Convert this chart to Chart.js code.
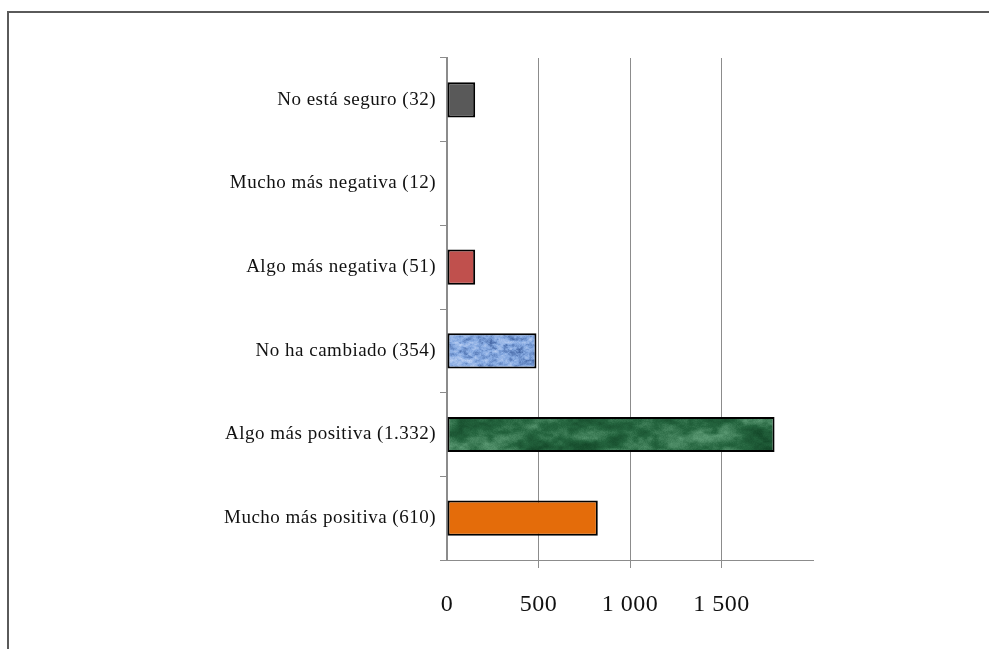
<!DOCTYPE html>
<html>
<head>
<meta charset="utf-8">
<script src="https://cdn.jsdelivr.net/npm/chart.js@4/dist/chart.umd.min.js"></script>
<style>
  html, body { margin: 0; padding: 0; background: #ffffff; overflow: hidden; }
  #wrap { position: relative; width: 989px; height: 649px; }
  #frame { position: absolute; left: 7px; top: 11px; width: 1100px; height: 800px;
           border-top: 2px solid #5a5a5a; border-left: 2px solid #5a5a5a; box-sizing: border-box; }
  #c { position: absolute; left: 0; top: 0; }
</style>
</head>
<body>
<div id="wrap">
  <div id="frame"></div>
  <canvas id="c" width="989" height="649"></canvas>
</div>
<script>
// Survey answers, top to bottom
const categories = [
  'No está seguro (32)',
  'Mucho más negativa (12)',
  'Algo más negativa (51)',
  'No ha cambiado (354)',
  'Algo más positiva (1.332)',
  'Mucho más positiva (610)'
];
const values = [154, 0, 154, 489, 1790, 824];
const xTicks = [0, 500, 1000, 1500];

// --- textured fills -------------------------------------------------------
function hash(x, y) {
  const h = Math.sin(x * 127.1 + y * 311.7) * 43758.5453;
  return h - Math.floor(h);
}
function smooth(x, y) {
  const xi = Math.floor(x), yi = Math.floor(y);
  const xf = x - xi, yf = y - yi;
  const u = xf * xf * (3 - 2 * xf), v = yf * yf * (3 - 2 * yf);
  const a = hash(xi, yi), b = hash(xi + 1, yi), c = hash(xi, yi + 1), d = hash(xi + 1, yi + 1);
  return a + (b - a) * u + (c - a) * v + (a - b - c + d) * u * v;
}
function mix(c1, c2, t) {
  t = Math.max(0, Math.min(1, t));
  return [0, 1, 2].map(i => Math.round(c1[i] + (c2[i] - c1[i]) * t));
}
// the fill canvases span the whole chart width, so no tile seam shows inside a bar
function makePattern(w, h, shade) {
  const cv = document.createElement('canvas');
  cv.width = w; cv.height = h;
  const g = cv.getContext('2d');
  const img = g.createImageData(w, h);
  for (let y = 0; y < h; y++) {
    for (let x = 0; x < w; x++) {
      const col = shade(x, y);
      const k = (y * w + x) * 4;
      img.data[k] = col[0]; img.data[k + 1] = col[1]; img.data[k + 2] = col[2]; img.data[k + 3] = 255;
    }
  }
  g.putImageData(img, 0, 0);
  return g.createPattern(cv, 'repeat');
}
// blue tissue paper
const tissue = makePattern(989, 649, (x, y) => {
  const n = 0.55 * smooth(x / 5, y / 3) + 0.3 * smooth(x / 2.2, y / 1.6 + 7) + 0.15 * hash(x, y);
  const dark = [52, 86, 150], mid = [132, 168, 224], light = [196, 214, 246];
  return n < 0.5 ? mix(dark, mid, n / 0.5) : mix(mid, light, (n - 0.5) / 0.5);
});
// green marble, cloudy
const marble = makePattern(989, 649, (x, y) => {
  const n = 0.45 * smooth(x / 45, y / 14) + 0.3 * smooth(x / 14, y / 6 + 5) +
            0.17 * smooth(x / 5, y / 3 + 9) + 0.08 * hash(x, y);
  const dark = [8, 52, 26], mid = [36, 100, 62], light = [100, 162, 124];
  return n < 0.5 ? mix(dark, mid, n / 0.5) : mix(mid, light, (n - 0.5) / 0.4);
});

const fills = ['#595959', '#595959', '#c0504d', tissue, marble, '#e46c0a'];

// --- chart ---------------------------------------------------------------
const AXIS_LEFT = 447, AXIS_BOTTOM = 560;
const serif = '"Liberation Serif", "Times New Roman", serif';

// slightly tracked-out lettering for the axis text
const spacing = {
  id: 'spacing',
  beforeDraw: chart => { chart.ctx.letterSpacing = '0.5px'; }
};

new Chart(document.getElementById('c'), {
  type: 'bar',
  plugins: [spacing],
  data: {
    labels: categories,
    datasets: [{
      data: values,
      backgroundColor: fills,
      borderColor: '#000000',
      borderWidth: 2,
      borderSkipped: false,
      categoryPercentage: 1,
      barPercentage: 0.42
    }]
  },
  options: {
    indexAxis: 'y',
    responsive: false,
    animation: false,
    events: [],
    layout: { autoPadding: false, padding: { left: 0, top: 58, right: 176, bottom: 0 } },
    plugins: { legend: { display: false }, tooltip: { enabled: false } },
    scales: {
      x: {
        min: 0,
        max: 2000,
        afterBuildTicks: s => { s.ticks = xTicks.concat([2000]).map(v => ({ value: v })); },
        afterFit: s => { s.height = 649 - AXIS_BOTTOM; },
        grid: {
          color: c => (c.tick && (c.tick.value === 0 || c.tick.value === 2000)) ? 'rgba(0,0,0,0)' : '#8c8c8c',
          lineWidth: 1,
          tickLength: 8,
          drawTicks: true
        },
        border: { display: true, color: '#8c8c8c', width: 1 },
        ticks: {
          color: '#111111',
          font: { family: serif, size: 24 },
          padding: 22,
          maxRotation: 0,
          autoSkip: false,
          callback: v => v === 2000 ? '' : String(v).replace(/\B(?=(\d{3})+(?!\d))/g, ' ')
        }
      },
      y: {
        afterFit: s => { s.width = AXIS_LEFT; },
        grid: { drawOnChartArea: false, tickLength: 7, color: '#8c8c8c', offset: true },
        border: { display: true, color: '#8c8c8c', width: 2 },
        ticks: {
          color: '#111111',
          font: { family: serif, size: 19 },
          padding: 4
        }
      }
    }
  }
});
</script>
</body>
</html>
